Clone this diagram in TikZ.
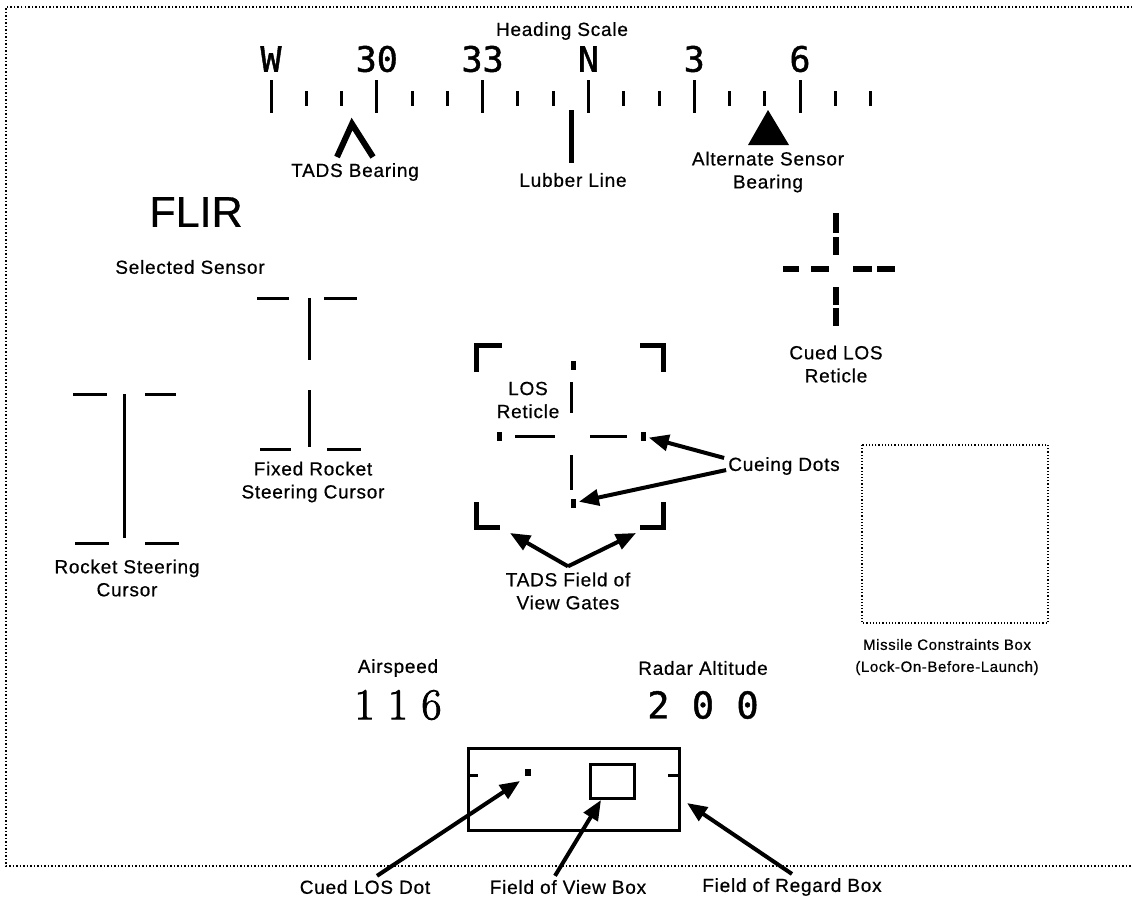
\documentclass[tikz,border=0pt]{standalone}
\usepackage{fontspec}
\usetikzlibrary{arrows.meta,positioning}
\newfontfamily\labfont[LetterSpace=4,FakeBold=0.6]{Liberation Sans}
\newfontfamily\bigfont[FakeBold=0.8]{Liberation Sans}
\newfontfamily\dispfont[FakeBold=1.2]{DejaVu Sans Mono}
\newfontfamily\serfont[FakeBold=2]{Latin Modern Roman}
\tikzset{
  lab/.style={font=\labfont\fontsize{19}{23}\selectfont,align=center,inner sep=0pt},
  smalllab/.style={font=\labfont\fontsize{15}{22}\selectfont,align=center,inner sep=0pt},
  sym/.style={line width=3pt},
  bigarrow/.style={line width=4pt,-{Triangle[length=20pt,width=16pt]}},
}

\begin{document}
\begin{tikzpicture}[x=1pt,y=-1pt]
\useasboundingbox (0,0) rectangle (1132,903);
% display frame
\draw[dotted,line width=1.5pt] (1132,7) -- (6,7) -- (6,866) -- (1132,866);

% heading scale
\node[lab] (hdg) at (562,31) {Heading Scale};
\foreach \lab [count=\i from 0] in {W,30,33,N,3,6}{
  \draw[sym] (271+105.8*\i,80) -- (271+105.8*\i,113);
  \node[font=\dispfont\fontsize{35}{35}\selectfont] (hdg\i) at (271+105.8*\i,59) {\lab};
  \foreach \m in {1,2}{\draw[sym] (271+105.8*\i+35.3*\m,91) -- (271+105.8*\i+35.3*\m,106);}
}
\draw[line width=6pt] (337,157) -- (352,124) -- (373,157);
\node[lab] (tadsb) at (355,172) {TADS Bearing};
\draw[line width=5pt] (571,110) -- (571,163);
\node[lab] (lubber) at (573,180) {Lubber Line};
\fill (768,110) -- (789,145) -- (748,145) -- cycle;
\node[lab] (altsens) at (768,172) {Alternate Sensor\\Bearing};

% selected sensor
\node[font=\bigfont\fontsize{43}{43}\selectfont,inner sep=0pt] (flir) at (196,212) {FLIR};
\node[lab] (selsens) at (190,267) {Selected Sensor};

% rocket steering cursors
\draw[sym] (257,298) -- (289,298) (324,298) -- (357,298) (309,298) -- (309,360)
  (309,390) -- (309,447) (260,449) -- (291,449) (327,449) -- (361,449);
\node[lab] (fixcur) at (313,482) {Fixed Rocket\\Steering Cursor};
\draw[sym] (73,394) -- (107,394) (145,394) -- (176,394) (124,394) -- (124,538)
  (75,543) -- (109,543) (145,543) -- (179,543);
\node[lab] (rockcur) at (127,578) {Rocket Steering\\Cursor};

% TADS field of view gates and LOS reticle
\draw[line width=5pt] (476,372) -- (476,345) -- (502,345)
  (640,345) -- (663,345) -- (663,372)
  (476,502) -- (476,527) -- (500,527)
  (640,527) -- (663,527) -- (663,502);
\draw[sym] (515,436) -- (555,436) (590,436) -- (627,436)
  (571,382) -- (571,413) (571,455) -- (571,490);
\foreach \x/\y in {573/365,499/436,643/436,573/503}{\fill (\x-2.5,\y-4.5) rectangle (\x+2.5,\y+4.5);}
\coordinate (dotR) at (643,436);
\coordinate (dotB) at (573,503);
\coordinate (gateL) at (476,527);
\coordinate (gateR) at (663,527);
\node[lab] (losret) at (528,400) {LOS\\Reticle};
\node[lab] (cuedots) at (784,466) {Cueing Dots};
\draw[bigarrow,shorten >=6pt] ([xshift=-4pt,yshift=-1pt]cuedots.north west) -- (dotR);
\draw[bigarrow,shorten >=6pt] ([xshift=-2pt,yshift=5pt]cuedots.south west) -- (dotB);
\node[lab] (gates) at (568,591) {TADS Field of\\View Gates};
\draw[bigarrow] ([yshift=6pt]gates.north) -- ([xshift=34pt,yshift=-6pt]gateL);
\draw[bigarrow] ([yshift=6pt]gates.north) -- ([xshift=-27pt,yshift=-6pt]gateR);

% cued LOS reticle
\draw[line width=5.5pt] (836,213) -- (836,233) (836,237) -- (836,255)
  (836,287) -- (836,305) (836,308) -- (836,326)
  (783,269) -- (799,269) (811,269) -- (829,269)
  (853,269) -- (872,269) (877,269) -- (895,269);
\node[lab] (cuedret) at (836,364) {Cued LOS\\Reticle};

% missile constraints box
\draw[dotted,line width=1.2pt] (862,445) rectangle (1048,623);
\node[smalllab] (mslbox) at (947,657) {Missile Constraints Box\\(Lock-On-Before-Launch)};

% airspeed and altitude
\node[lab] (aslab) at (398,668) {Airspeed};
\node[font=\serfont\fontsize{44}{44}\selectfont,inner sep=0pt] (asval) at (398,705) {1 1 6};
\node[lab] (altlab) at (703,668) {Radar Altitude};
\node[font=\dispfont\fontsize{37}{37}\selectfont,inner sep=0pt] (altval) at (703,705) {2 0 0};

% field of regard box
\draw[sym] (468,748) rectangle (679,830) (468,775) -- (478,775) (668,775) -- (679,775);
\draw[sym] (590,764) rectangle (634,798);
\fill (525,769) rectangle (531,776);
\coordinate (losdot) at (520,781);
\coordinate (fovbox) at (601,800);
\coordinate (forbox) at (687,803);
\node[lab] (dotlab) at (365,887) {Cued LOS Dot};
\node[lab] (fovlab) at (568,887) {Field of View Box};
\node[lab] (forlab) at (792,887) {Field of Regard Box};
\draw[bigarrow] ([xshift=12pt,yshift=4pt]dotlab.north) -- (losdot);
\draw[bigarrow] ([xshift=-13pt,yshift=4pt]fovlab.north) -- (fovbox);
\draw[bigarrow] ([yshift=4pt]forlab.north) -- (forbox);
\end{tikzpicture}
\end{document}
